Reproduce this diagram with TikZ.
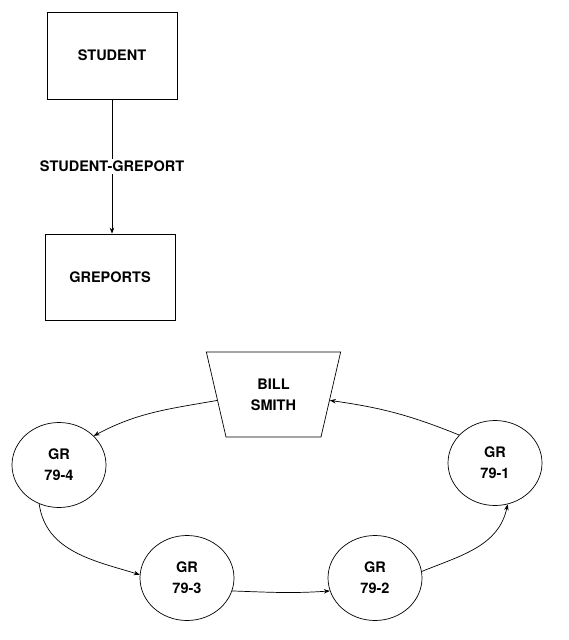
\documentclass[tikz,border=0pt]{standalone}
\usepackage{fontspec}
\setmainfont{TeX Gyre Heros}
\usepackage{tikz}
\usetikzlibrary{shapes.geometric, arrows.meta, positioning}

\begin{document}
\begin{tikzpicture}[x=1pt, y=-1pt, line width=0.7pt,
    lbl/.style={font=\fontsize{14.5}{21}\selectfont\bfseries, align=center},
    recbox/.style={lbl, draw, minimum width=130pt, minimum height=87pt, inner sep=0pt},
    grcirc/.style={lbl, draw, ellipse, minimum width=94pt, minimum height=85pt, inner sep=0pt},
    owner/.style={lbl, draw, trapezium, shape border rotate=180, trapezium stretches=true,
      trapezium left angle=73.6, trapezium right angle=73.6,
      minimum width=135pt, minimum height=85pt, inner sep=0pt},
    link/.style={-{Stealth[length=6pt, width=4.5pt]}}]
  \useasboundingbox (0,0) rectangle (568,640);

  % schema: record types and set type
  \node[recbox] (student) at (112,55.5) {STUDENT};
  \node[recbox, minimum height=86pt] (greports) at (110,277) {GREPORTS};
  \draw[link] (student.south) -- (student.south |- greports.north)
    node[midway, fill=white, lbl, inner sep=2pt] (setname) {STUDENT-GREPORT};

  % occurrence: owner and members in a ring
  \node[owner] (bill) at (273.5,394.5) {BILL\\SMITH};
  \node[grcirc] (gr1) at (495,463) {GR\\79-1};
  \node[grcirc] (gr2) at (375,578) {GR\\79-2};
  \node[grcirc] (gr3) at (187,578) {GR\\79-3};
  \node[grcirc] (gr4) at (59,465) {GR\\79-4};

  \draw[link] (bill.186) to[out=190, in=28] (gr4.40);
  \draw[link] (gr4.243) to[out=-82, in=163] (gr3.176);
  \draw[link] (gr3.-16) to[out=-2, in=184] (gr2.196);
  \draw[link] (gr2.8) to[out=22, in=-102] (gr1.-73);
  \draw[link] (gr1.142) to[out=158, in=-8] (bill.-6);
\end{tikzpicture}
\end{document}
